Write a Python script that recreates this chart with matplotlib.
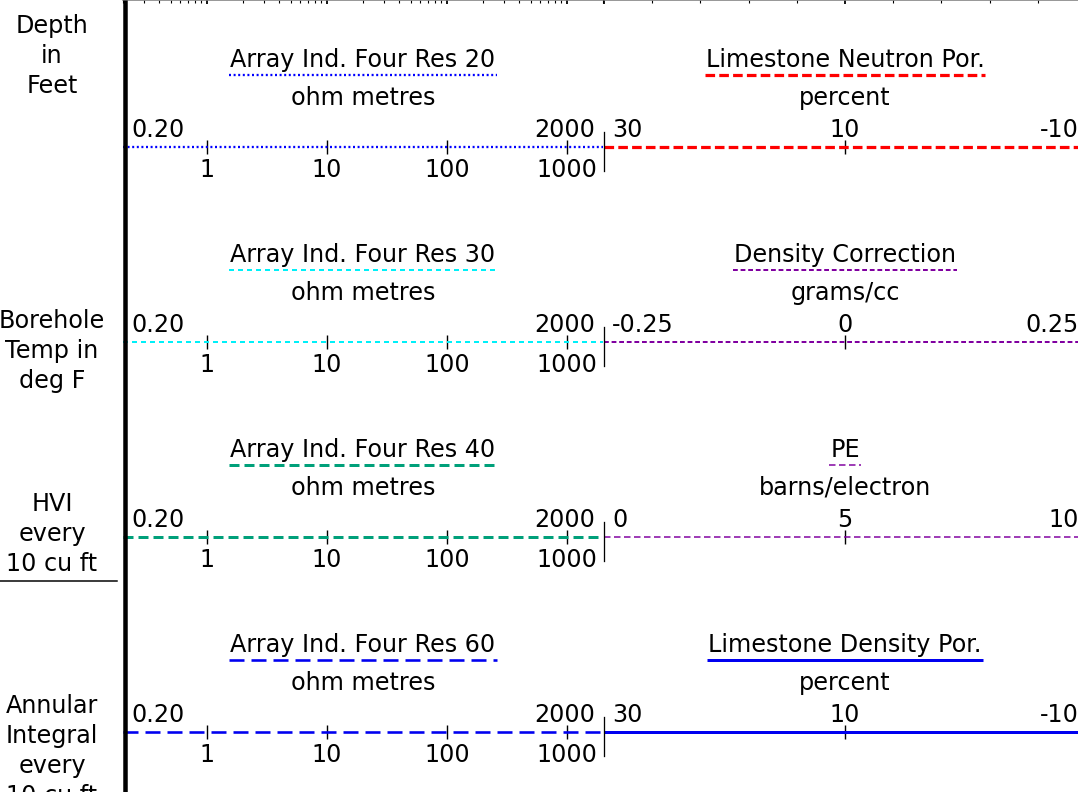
import matplotlib
matplotlib.use("Agg")
import matplotlib.pyplot as plt
from matplotlib.ticker import FixedLocator, NullLocator, LogLocator, MultipleLocator, FixedFormatter
from matplotlib.lines import Line2D

plt.rcParams["font.family"] = ["DejaVu Sans"]
plt.rcParams["font.size"] = 17.2
plt.rcParams["lines.scale_dashes"] = False

# ---------------------------------------------------------------- data
res_curves = ["Array Ind. Four Res 20", "Array Ind. Four Res 30",
              "Array Ind. Four Res 40", "Array Ind. Four Res 60"]
res_unit = "ohm metres"
res_range = (0.2, 2000)
res_range_labels = ("0.20", "2000")
res_ticks = [1, 10, 100, 1000]
res_tick_labels = ["1", "10", "100", "1000"]

por_curves = ["Limestone Neutron Por.", "Density Correction", "PE",
              "Limestone Density Por."]
por_units = ["percent", "grams/cc", "barns/electron", "percent"]
por_left = [30, -0.25, 0, 30]
por_mid = [10, 0, 5, 10]
por_right = [-10, 0.25, 10, -10]
por_left_labels = ["30", "-0.25", "0", "30"]
por_mid_labels = ["10", "0", "5", "10"]
por_right_labels = ["-10", "0.25", "10", "-10"]

depth_labels = [["Depth", "in", "Feet"],
                ["Borehole", "Temp in", "deg F"],
                ["HVI", "every", "10 cu ft"],
                ["Annular", "Integral", "every", "10 cu ft"]]

# ---------------------------------------------------------------- styles (pixel units)
res_styles = [
    dict(color="#0000FF", lw=2.3, dash=(2.0, 2.6)),
    dict(color="#00F0F8", lw=2.0, dash=(5.0, 4.0)),
    dict(color="#00A07A", lw=3.0, dash=(10.0, 5.0)),
    dict(color="#0000F0", lw=2.6, dash=(15.0, 7.0)),
]
por_styles = [
    dict(color="#FF0000", lw=3.2, dash=(9.6, 4.2)),
    dict(color="#8000A0", lw=2.0, dash=(4.8, 2.8)),
    dict(color="#8000A0", lw=1.5, dash=(6.5, 3.5)),
    dict(color="#0000F0", lw=3.0, dash=None),
]

# ---------------------------------------------------------------- layout
W, H, DPI = 1078, 792, 100
PT = 72.0 / DPI                     # points per pixel
L0, L1 = 123, 603                   # resistivity track
R0, R1 = 604, 1086                  # porosity track
row_y = [147, 342, 537, 732]
label_block_y = [33, 328, 511, 713]
LINE_STEP = 30
FS = 17.2


def fx(px):
    return px / W


def fy(py):
    return 1 - py / H


def style_kw(st):
    kw = dict(color=st["color"], lw=st["lw"] * PT, solid_capstyle="butt",
              dash_capstyle="butt")
    if st["dash"] is None:
        kw["linestyle"] = "-"
    else:
        kw["dashes"] = tuple(v * PT for v in st["dash"])
    return kw


fig = plt.figure(figsize=(W / DPI, H / DPI), dpi=DPI)
fig.patch.set_facecolor("white")

# background axes in pixel space for the depth column and frame
ax_bg = fig.add_axes([0, 0, 1, 1])
ax_bg.set_xlim(0, W)
ax_bg.set_ylim(H, 0)
ax_bg.axis("off")
ax_bg.patch.set_alpha(0)
ax_bg.set_zorder(10)

for lines, base in zip(depth_labels, label_block_y):
    for k, txt in enumerate(lines):
        ax_bg.text(52, base + k * LINE_STEP, txt, ha="center", va="baseline",
                   fontsize=FS, color="black")
ax_bg.plot([0, 117], [580.7, 580.7], color="black", lw=1.5 * PT)
ax_bg.plot([124.5, 124.5], [0, H], color="black", lw=4.5 * PT,
           solid_capstyle="butt")
for y in row_y:
    ax_bg.plot([L1 + 1, L1 + 1], [y - 15, y + 24], color="black", lw=1.3 * PT)


def top_scale_axes(x0, x1):
    ax = fig.add_axes([fx(x0), 0, fx(x1) - fx(x0), 1])
    ax.patch.set_alpha(0)
    for side in ("left", "right", "bottom"):
        ax.spines[side].set_visible(False)
    ax.spines["top"].set_color("#808080")
    ax.spines["top"].set_linewidth(1.6 * PT)
    ax.yaxis.set_visible(False)
    ax.tick_params(axis="x", which="both", top=True, bottom=False,
                   labeltop=False, labelbottom=False, direction="in",
                   color="black")
    ax.tick_params(axis="x", which="major", length=4 * PT, width=1.8 * PT)
    ax.tick_params(axis="x", which="minor", length=3 * PT, width=1.1 * PT)
    return ax


# grid ticks along the top edge
ax_top_l = top_scale_axes(L0, L1)
ax_top_l.set_xscale("log")
ax_top_l.set_xlim(*res_range)
ax_top_l.xaxis.set_major_locator(LogLocator(base=10))
ax_top_l.xaxis.set_minor_locator(LogLocator(base=10, subs=range(2, 10)))

ax_top_r = top_scale_axes(R0, R1)
ax_top_r.set_xlim(0, 10)
ax_top_r.xaxis.set_major_locator(MultipleLocator(5))
ax_top_r.xaxis.set_minor_locator(MultipleLocator(1))


def row_axes(x0, x1, y):
    ax = fig.add_axes([fx(x0), fy(y), fx(x1) - fx(x0), 1e-4])
    ax.patch.set_alpha(0)
    for s in ax.spines.values():
        s.set_visible(False)
    ax.yaxis.set_visible(False)
    ax.set_ylim(-1, 1)
    ax.xaxis.set_minor_locator(NullLocator())
    return ax


def header(ax, name, unit):
    t = ax.annotate(name, xy=(0.5, 0), xycoords=("axes fraction", "data"),
                    xytext=(0, 80), textcoords="offset pixels",
                    ha="center", va="baseline", fontsize=FS)
    ax.annotate(unit, xy=(0.5, 0), xycoords=("axes fraction", "data"),
                xytext=(0, 42), textcoords="offset pixels",
                ha="center", va="baseline", fontsize=FS)
    return t


titles = []

for i in range(4):
    y = row_y[i]

    # resistivity curve (log scale)
    ax = row_axes(L0, L1, y)
    ax.set_xscale("log")
    ax.set_xlim(*res_range)
    ax.xaxis.set_major_locator(FixedLocator(res_ticks))
    ax.xaxis.set_minor_locator(NullLocator())
    ax.xaxis.set_major_formatter(FixedFormatter(res_tick_labels))
    ax.tick_params(axis="x", direction="inout", length=14 * PT,
                   width=1.4 * PT, pad=4.0 * PT, labelsize=FS, color="black")
    ax.plot(res_range, [0, 0], clip_on=False, **style_kw(res_styles[i]))
    ax.annotate(res_range_labels[0], xy=(res_range[0], 0),
                xytext=(8, 10), textcoords="offset pixels",
                ha="left", va="baseline", fontsize=FS)
    ax.annotate(res_range_labels[1], xy=(res_range[1], 0),
                xytext=(-8, 10), textcoords="offset pixels",
                ha="right", va="baseline", fontsize=FS)
    titles.append((ax, header(ax, res_curves[i], res_unit), res_styles[i]))

    # porosity / density curve (linear scale)
    ax = row_axes(R0, R1, y)
    ax.set_xlim(por_left[i], por_right[i])
    ax.xaxis.set_major_locator(FixedLocator([por_mid[i]]))
    ax.tick_params(axis="x", direction="inout", length=14 * PT,
                   width=1.4 * PT, labelbottom=False, color="black")
    ax.plot([por_left[i], por_right[i]], [0, 0], clip_on=False,
            **style_kw(por_styles[i]))
    ax.annotate(por_left_labels[i], xy=(por_left[i], 0),
                xytext=(8, 10), textcoords="offset pixels",
                ha="left", va="baseline", fontsize=FS)
    ax.annotate(por_mid_labels[i], xy=(por_mid[i], 0),
                xytext=(0, 10), textcoords="offset pixels",
                ha="center", va="baseline", fontsize=FS)
    ax.annotate(por_right_labels[i], xy=(por_right[i], 0),
                xytext=(-7, 10), textcoords="offset pixels",
                ha="right", va="baseline", fontsize=FS)
    titles.append((ax, header(ax, por_curves[i], por_units[i]), por_styles[i]))

# underline each curve name with its own line style
renderer = fig.canvas.get_renderer()
inv = fig.transFigure.inverted()
for ax, t, st in titles:
    bb = t.get_window_extent(renderer)
    y_disp = ax.transData.transform((0, 0))[1] + 72
    (xa, ya), (xb, _) = inv.transform([(bb.x0 - 1, y_disp), (bb.x1 + 1, y_disp)])
    fig.add_artist(Line2D([xa, xb], [ya, ya], transform=fig.transFigure,
                          **style_kw(st)))

fig.savefig("out.png", dpi=DPI, facecolor="white")
